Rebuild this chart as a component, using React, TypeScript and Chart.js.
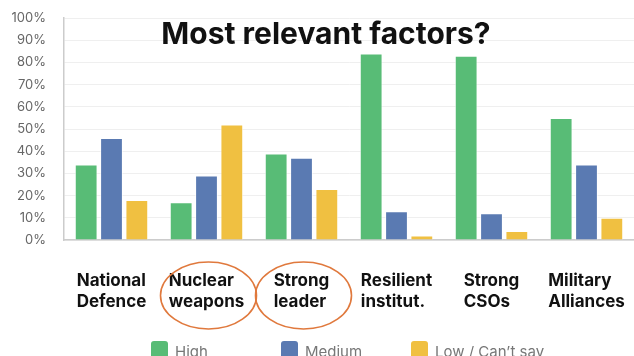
import React, { useEffect, useRef } from "react";
import { Chart, registerables } from "chart.js";

Chart.register(...registerables);

const categories: string[][] = [
  ["National", "Defence"],
  ["Nuclear", "weapons"],
  ["Strong", "leader"],
  ["Resilient", "institut."],
  ["Strong", "CSOs"],
  ["Military", "Alliances"],
];
const seriesNames = ["High", "Medium", "Low / Can\u2019t say"];
const highValues = [34, 17, 39, 84, 83, 55];
const mediumValues = [46, 29, 37, 13, 12, 34];
const lowValues = [18, 52, 23, 2, 4, 10];
const seriesColors = ["#58BC76", "#5A7AB2", "#F0C041"];
const circledCategories = [1, 2];
const yTicks = [0, 10, 20, 30, 40, 50, 60, 70, 80, 90, 100];
const titleText = "Most relevant factors?";

const FONT = "Inter, 'Noto Sans', sans-serif";

// Title, two-line category labels, circled highlights and the legend row.
const overlayPlugin = {
  id: "overlay",
  afterDraw(chart: any) {
    const { ctx, chartArea, scales } = chart;
    const x = scales.x;
    ctx.save();

    // Title over the plot
    ctx.fillStyle = "#111";
    ctx.font = `bold 30px ${FONT}`;
    ctx.textAlign = "center";
    ctx.textBaseline = "alphabetic";
    ctx.fillText(titleText, 326, 44);

    // Category labels: left-aligned block centred under each group
    ctx.font = `bold 17px ${FONT}`;
    ctx.textAlign = "left";
    ctx.fillStyle = "#111";
    categories.forEach((lines, i) => {
      const cx = x.getPixelForValue(i);
      const w = Math.max(...lines.map((l) => ctx.measureText(l).width));
      const x0 = cx - w / 2;
      lines.forEach((line, j) => {
        ctx.fillText(line, x0, 286 + j * 21);
      });
    });

    // Orange ellipses around highlighted categories
    ctx.strokeStyle = "#E0793D";
    ctx.lineWidth = 1.6;
    circledCategories.forEach((i) => {
      const cx = x.getPixelForValue(i) + 2;
      ctx.beginPath();
      ctx.ellipse(cx, 295.5, 48, 33.5, 0, 0, Math.PI * 2);
      ctx.stroke();
    });

    // Legend with evenly spaced items
    const pitch = 130;
    const mid = (chartArea.left + chartArea.right) / 2;
    const start = mid - (pitch * seriesNames.length) / 2 - 3;
    ctx.font = `15px ${FONT}`;
    ctx.textBaseline = "alphabetic";
    seriesNames.forEach((name, i) => {
      const bx = start + i * pitch;
      ctx.fillStyle = seriesColors[i];
      ctx.beginPath();
      (ctx as any).roundRect(bx, 341, 17, 18, 3);
      ctx.fill();
      ctx.fillStyle = "#777";
      ctx.fillText(name, bx + 24, 357);
    });

    ctx.restore();
  },
};

export default function App() {
  const canvasRef = useRef<HTMLCanvasElement | null>(null);

  useEffect(() => {
    document.body.style.margin = "0";
    const canvas = canvasRef.current;
    if (!canvas) return;
    const values = [highValues, mediumValues, lowValues];
    const chart = new Chart(canvas, {
      type: "bar",
      data: {
        labels: categories.map((c) => c.join(" ")),
        datasets: seriesNames.map((name, i) => ({
          label: name,
          data: values[i],
          backgroundColor: seriesColors[i],
          borderColor: "rgba(255,255,255,0.7)",
          borderWidth: 1,
          categoryPercentage: 0.8,
          barPercentage: 0.9,
        })),
      },
      options: {
        animation: false,
        responsive: false,
        maintainAspectRatio: false,
        layout: { padding: { top: 18, bottom: 116, left: 0, right: 0 } },
        plugins: {
          legend: { display: false },
          title: { display: false },
          tooltip: { enabled: false },
        },
        scales: {
          x: {
            ticks: { display: false },
            grid: { display: false, drawTicks: false },
            border: { display: true, color: "#CCCCCC", width: 1.5 },
          },
          y: {
            min: 0,
            max: 100,
            afterFit: (scale: any) => {
              scale.width = 64;
            },
            afterBuildTicks: (scale: any) => {
              scale.ticks = yTicks.map((v) => ({ value: v }));
            },
            ticks: {
              padding: 0,
              color: "#666",
              font: { family: FONT, size: 13 },
              callback: (v: any) => `${v}%`,
            },
            grid: {
              color: "#EFEFEF",
              lineWidth: 1,
              drawTicks: true,
              tickLength: 18,
              tickColor: "rgba(0,0,0,0)",
            },
            border: { display: true, color: "#CCCCCC", width: 1.5 },
          },
        },
      },
      plugins: [overlayPlugin],
    });
    return () => chart.destroy();
  }, []);

  return (
    <div style={{ position: "relative", width: 634, height: 356, background: "#fff" }}>
      <canvas ref={canvasRef} width={634} height={356} />
    </div>
  );
}
